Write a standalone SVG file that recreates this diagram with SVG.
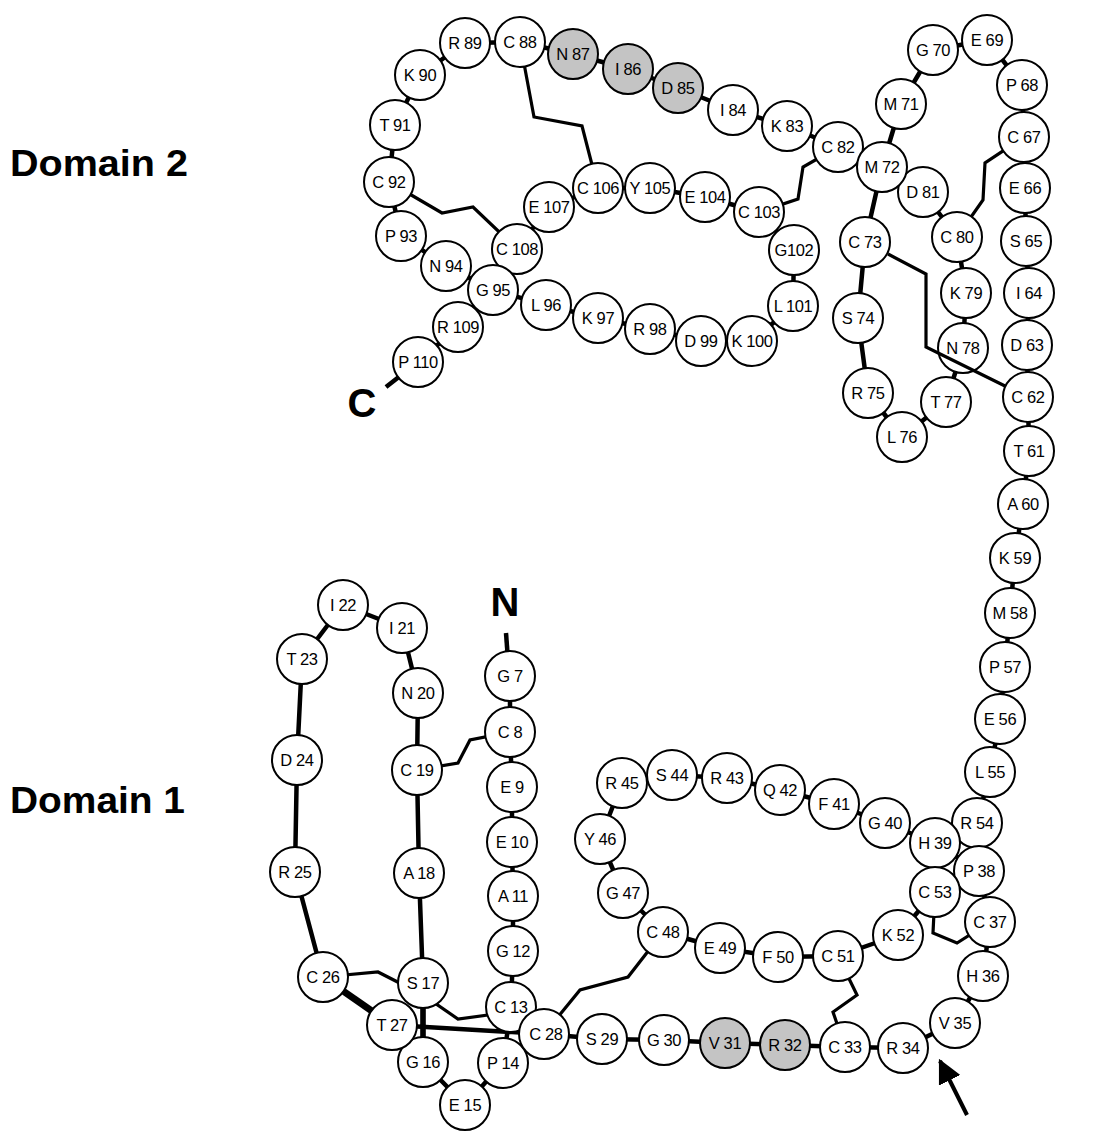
<svg xmlns="http://www.w3.org/2000/svg" width="1093" height="1131" viewBox="0 0 1093 1131">
<defs>
<style>
.n circle{fill:#fff;stroke:#000;stroke-width:2}
.n.g circle{fill:#c4c4c4}
.n text{font-family:"Liberation Sans",Arial,sans-serif;font-size:16.5px;letter-spacing:-0.4px;text-anchor:middle;fill:#000}
.bb{fill:none;stroke:#000;stroke-width:4.5;stroke-linejoin:round}
.ss{fill:none;stroke:#000;stroke-width:3.2;stroke-linejoin:miter}
.lbl{font-family:"Liberation Sans",Arial,sans-serif;font-weight:bold;fill:#000}
</style>
<marker id="ah" viewBox="0 0 10 10" refX="9" refY="5" markerWidth="6" markerHeight="6" markerUnits="strokeWidth" orient="auto">
<path d="M0,0 L10,5 L0,10 z" fill="#000"/>
</marker>
</defs>
<rect width="1093" height="1131" fill="#fff"/>
<text class="lbl" x="10" y="176" font-size="36" textLength="178" lengthAdjust="spacingAndGlyphs">Domain 2</text>
<text class="lbl" x="10" y="813" font-size="36" textLength="175" lengthAdjust="spacingAndGlyphs">Domain 1</text>
<text class="lbl" x="505" y="616" font-size="40" text-anchor="middle">N</text>
<text class="lbl" x="362" y="417" font-size="40" text-anchor="middle">C</text>
<g id="connectors">
<polyline class="bb" points="510,676 510,732 512,787 512,842 513,896 513,951 511,1007 503,1063 465,1105 423,1062 423,983 419,873 417,770 418,693 402,628 343,605 302,659 297,760 295,872 323,977 392,1025 544,1034 602,1039 664,1040 725,1043 785,1045 845,1047 903,1048 955,1023 983,976 990,922 979,871 935,843 885,823 834,804 780,790 727,778 672,775 622,783 600,839 623,893 663,932 720,948 778,957 838,956 898,935 935,892 979,871 977,823 990,772 1000,719 1005,667 1010,613 1015,558 1023,504 1029,451 1028,397 1027,345 1029,293 1026,241 1025,188 1024,137 1022,85 987,40 933,50 901,104 882,167 865,242 858,318 868,393 902,437 946,402 963,348 966,293 957,237 923,192 838,147 787,126 733,110 678,88 628,69 573,54 520,42 465,43 420,75 395,125 389,182 401,236 446,266 493,290 546,305 598,318 650,329 701,341 752,341 793,306 794,250 759,212 705,197 650,188 598,188 549,207 517,249 458,327 418,362 386,387"/>
<line x1="323" y1="977" x2="392" y2="1025" stroke="#000" stroke-width="7"/>
<line x1="423" y1="983" x2="423" y2="1062" stroke="#000" stroke-width="5.5"/>
<line class="bb" x1="506" y1="633" x2="508" y2="660"/>
<polyline class="ss" points="417,770 458,763 470,740 510,732"/>
<polyline class="ss" points="323,977 378,972 423,995 458,1019 510,1012"/>
<polyline class="ss" points="544,1034 580,990 628,977 663,932"/>
<polyline class="ss" points="838,956 857,995 833,1012 845,1047"/>
<polyline class="ss" points="935,892 933,933 957,943 990,922"/>
<polyline class="ss" points="1024,137 985,163 983,200 957,237"/>
<polyline class="ss" points="838,147 803,167 798,199 759,212"/>
<polyline class="ss" points="520,42 534,117 582,126 598,188"/>
<polyline class="ss" points="389,182 442,213 473,207 517,249"/>
<line x1="967" y1="1115" x2="940" y2="1061" stroke="#000" stroke-width="4" marker-end="url(#ah)"/>
</g>
<g id="r7" class="n"><circle cx="510" cy="676" r="25"/><text x="510" y="682">G 7</text></g>
<g id="r8" class="n"><circle cx="510" cy="732" r="25"/><text x="510" y="738">C 8</text></g>
<g id="r9" class="n"><circle cx="512" cy="787" r="25"/><text x="512" y="793">E 9</text></g>
<g id="r10" class="n"><circle cx="512" cy="842" r="25"/><text x="512" y="848">E 10</text></g>
<g id="r11" class="n"><circle cx="513" cy="896" r="25"/><text x="513" y="902">A 11</text></g>
<g id="r12" class="n"><circle cx="513" cy="951" r="25"/><text x="513" y="957">G 12</text></g>
<g id="r13" class="n"><circle cx="511" cy="1007" r="25"/><text x="511" y="1013">C 13</text></g>
<g id="r14" class="n"><circle cx="503" cy="1063" r="25"/><text x="503" y="1069">P 14</text></g>
<g id="r15" class="n"><circle cx="465" cy="1105" r="25"/><text x="465" y="1111">E 15</text></g>
<g id="r16" class="n"><circle cx="423" cy="1062" r="25"/><text x="423" y="1068">G 16</text></g>
<g id="r17" class="n"><circle cx="423" cy="983" r="25"/><text x="423" y="989">S 17</text></g>
<g id="r18" class="n"><circle cx="419" cy="873" r="25"/><text x="419" y="879">A 18</text></g>
<g id="r19" class="n"><circle cx="417" cy="770" r="25"/><text x="417" y="776">C 19</text></g>
<g id="r20" class="n"><circle cx="418" cy="693" r="25"/><text x="418" y="699">N 20</text></g>
<g id="r21" class="n"><circle cx="402" cy="628" r="25"/><text x="402" y="634">I 21</text></g>
<g id="r22" class="n"><circle cx="343" cy="605" r="25"/><text x="343" y="611">I 22</text></g>
<g id="r23" class="n"><circle cx="302" cy="659" r="25"/><text x="302" y="665">T 23</text></g>
<g id="r24" class="n"><circle cx="297" cy="760" r="25"/><text x="297" y="766">D 24</text></g>
<g id="r25" class="n"><circle cx="295" cy="872" r="25"/><text x="295" y="878">R 25</text></g>
<g id="r26" class="n"><circle cx="323" cy="977" r="25"/><text x="323" y="983">C 26</text></g>
<g id="r27" class="n"><circle cx="392" cy="1025" r="25"/><text x="392" y="1031">T 27</text></g>
<g id="r28" class="n"><circle cx="544" cy="1034" r="25"/><text x="546" y="1040">C 28</text></g>
<g id="r29" class="n"><circle cx="602" cy="1039" r="25"/><text x="602" y="1045">S 29</text></g>
<g id="r30" class="n"><circle cx="664" cy="1040" r="25"/><text x="664" y="1046">G 30</text></g>
<g id="r31" class="n g"><circle cx="725" cy="1043" r="25"/><text x="725" y="1049">V 31</text></g>
<g id="r32" class="n g"><circle cx="785" cy="1045" r="25"/><text x="785" y="1051">R 32</text></g>
<g id="r33" class="n"><circle cx="845" cy="1047" r="25"/><text x="845" y="1053">C 33</text></g>
<g id="r34" class="n"><circle cx="903" cy="1048" r="25"/><text x="903" y="1054">R 34</text></g>
<g id="r35" class="n"><circle cx="955" cy="1023" r="25"/><text x="955" y="1029">V 35</text></g>
<g id="r36" class="n"><circle cx="983" cy="976" r="25"/><text x="983" y="982">H 36</text></g>
<g id="r37" class="n"><circle cx="990" cy="922" r="25"/><text x="990" y="928">C 37</text></g>
<g id="r54" class="n"><circle cx="977" cy="823" r="25"/><text x="977" y="829">R 54</text></g>
<g id="r38" class="n"><circle cx="979" cy="871" r="25"/><text x="979" y="877">P 38</text></g>
<g id="r39" class="n"><circle cx="935" cy="843" r="25"/><text x="935" y="849">H 39</text></g>
<g id="r40" class="n"><circle cx="885" cy="823" r="25"/><text x="885" y="829">G 40</text></g>
<g id="r41" class="n"><circle cx="834" cy="804" r="25"/><text x="834" y="810">F 41</text></g>
<g id="r42" class="n"><circle cx="780" cy="790" r="25"/><text x="780" y="796">Q 42</text></g>
<g id="r43" class="n"><circle cx="727" cy="778" r="25"/><text x="727" y="784">R 43</text></g>
<g id="r44" class="n"><circle cx="672" cy="775" r="25"/><text x="672" y="781">S 44</text></g>
<g id="r45" class="n"><circle cx="622" cy="783" r="25"/><text x="622" y="789">R 45</text></g>
<g id="r46" class="n"><circle cx="600" cy="839" r="25"/><text x="600" y="845">Y 46</text></g>
<g id="r47" class="n"><circle cx="623" cy="893" r="25"/><text x="623" y="899">G 47</text></g>
<g id="r48" class="n"><circle cx="663" cy="932" r="25"/><text x="663" y="938">C 48</text></g>
<g id="r49" class="n"><circle cx="720" cy="948" r="25"/><text x="720" y="954">E 49</text></g>
<g id="r50" class="n"><circle cx="778" cy="957" r="25"/><text x="778" y="963">F 50</text></g>
<g id="r51" class="n"><circle cx="838" cy="956" r="25"/><text x="838" y="962">C 51</text></g>
<g id="r52" class="n"><circle cx="898" cy="935" r="25"/><text x="898" y="941">K 52</text></g>
<g id="r53" class="n"><circle cx="935" cy="892" r="25"/><text x="935" y="898">C 53</text></g>
<g id="r55" class="n"><circle cx="990" cy="772" r="25"/><text x="990" y="778">L 55</text></g>
<g id="r56" class="n"><circle cx="1000" cy="719" r="25"/><text x="1000" y="725">E 56</text></g>
<g id="r57" class="n"><circle cx="1005" cy="667" r="25"/><text x="1005" y="673">P 57</text></g>
<g id="r58" class="n"><circle cx="1010" cy="613" r="25"/><text x="1010" y="619">M 58</text></g>
<g id="r59" class="n"><circle cx="1015" cy="558" r="25"/><text x="1015" y="564">K 59</text></g>
<g id="r60" class="n"><circle cx="1023" cy="504" r="25"/><text x="1023" y="510">A 60</text></g>
<g id="r61" class="n"><circle cx="1029" cy="451" r="25"/><text x="1029" y="457">T 61</text></g>
<g id="r62" class="n"><circle cx="1028" cy="397" r="25"/><text x="1028" y="403">C 62</text></g>
<g id="r63" class="n"><circle cx="1027" cy="345" r="25"/><text x="1027" y="351">D 63</text></g>
<g id="r64" class="n"><circle cx="1029" cy="293" r="25"/><text x="1029" y="299">I 64</text></g>
<g id="r65" class="n"><circle cx="1026" cy="241" r="25"/><text x="1026" y="247">S 65</text></g>
<g id="r66" class="n"><circle cx="1025" cy="188" r="25"/><text x="1025" y="194">E 66</text></g>
<g id="r67" class="n"><circle cx="1024" cy="137" r="25"/><text x="1024" y="143">C 67</text></g>
<g id="r68" class="n"><circle cx="1022" cy="85" r="25"/><text x="1022" y="91">P 68</text></g>
<g id="r69" class="n"><circle cx="987" cy="40" r="25"/><text x="987" y="46">E 69</text></g>
<g id="r70" class="n"><circle cx="933" cy="50" r="25"/><text x="933" y="56">G 70</text></g>
<g id="r71" class="n"><circle cx="901" cy="104" r="25"/><text x="901" y="110">M 71</text></g>
<g id="r73" class="n"><circle cx="865" cy="242" r="25"/><text x="865" y="248">C 73</text></g>
<g id="r74" class="n"><circle cx="858" cy="318" r="25"/><text x="858" y="324">S 74</text></g>
<g id="r75" class="n"><circle cx="868" cy="393" r="25"/><text x="868" y="399">R 75</text></g>
<g id="r76" class="n"><circle cx="902" cy="437" r="25"/><text x="902" y="443">L 76</text></g>
<g id="r77" class="n"><circle cx="946" cy="402" r="25"/><text x="946" y="408">T 77</text></g>
<g id="r78" class="n"><circle cx="963" cy="348" r="25"/><text x="963" y="354">N 78</text></g>
<g id="r79" class="n"><circle cx="966" cy="293" r="25"/><text x="966" y="299">K 79</text></g>
<g id="r80" class="n"><circle cx="957" cy="237" r="25"/><text x="957" y="243">C 80</text></g>
<g id="r81" class="n"><circle cx="923" cy="192" r="25"/><text x="923" y="198">D 81</text></g>
<g id="r82" class="n"><circle cx="838" cy="147" r="25"/><text x="838" y="153">C 82</text></g>
<g id="r72" class="n"><circle cx="882" cy="167" r="25"/><text x="882" y="173">M 72</text></g>
<g id="r83" class="n"><circle cx="787" cy="126" r="25"/><text x="787" y="132">K 83</text></g>
<g id="r84" class="n"><circle cx="733" cy="110" r="25"/><text x="733" y="116">I 84</text></g>
<g id="r85" class="n g"><circle cx="678" cy="88" r="25"/><text x="678" y="94">D 85</text></g>
<g id="r86" class="n g"><circle cx="628" cy="69" r="25"/><text x="628" y="75">I 86</text></g>
<g id="r87" class="n g"><circle cx="573" cy="54" r="25"/><text x="573" y="60">N 87</text></g>
<g id="r88" class="n"><circle cx="520" cy="42" r="25"/><text x="520" y="48">C 88</text></g>
<g id="r89" class="n"><circle cx="465" cy="43" r="25"/><text x="465" y="49">R 89</text></g>
<g id="r90" class="n"><circle cx="420" cy="75" r="25"/><text x="420" y="81">K 90</text></g>
<g id="r91" class="n"><circle cx="395" cy="125" r="25"/><text x="395" y="131">T 91</text></g>
<g id="r92" class="n"><circle cx="389" cy="182" r="25"/><text x="389" y="188">C 92</text></g>
<g id="r93" class="n"><circle cx="401" cy="236" r="25"/><text x="401" y="242">P 93</text></g>
<g id="r94" class="n"><circle cx="446" cy="266" r="25"/><text x="446" y="272">N 94</text></g>
<g id="r96" class="n"><circle cx="546" cy="305" r="25"/><text x="546" y="311">L 96</text></g>
<g id="r97" class="n"><circle cx="598" cy="318" r="25"/><text x="598" y="324">K 97</text></g>
<g id="r98" class="n"><circle cx="650" cy="329" r="25"/><text x="650" y="335">R 98</text></g>
<g id="r99" class="n"><circle cx="701" cy="341" r="25"/><text x="701" y="347">D 99</text></g>
<g id="r100" class="n"><circle cx="752" cy="341" r="25"/><text x="752" y="347">K 100</text></g>
<g id="r101" class="n"><circle cx="793" cy="306" r="25"/><text x="793" y="312">L 101</text></g>
<g id="r102" class="n"><circle cx="794" cy="250" r="25"/><text x="794" y="256">G102</text></g>
<g id="r103" class="n"><circle cx="759" cy="212" r="25"/><text x="759" y="218">C 103</text></g>
<g id="r104" class="n"><circle cx="705" cy="197" r="25"/><text x="705" y="203">E 104</text></g>
<g id="r105" class="n"><circle cx="650" cy="188" r="25"/><text x="650" y="194">Y 105</text></g>
<g id="r106" class="n"><circle cx="598" cy="188" r="25"/><text x="598" y="194">C 106</text></g>
<g id="r107" class="n"><circle cx="549" cy="207" r="25"/><text x="549" y="213">E 107</text></g>
<g id="r108" class="n"><circle cx="517" cy="249" r="25"/><text x="517" y="255">C 108</text></g>
<g id="r95" class="n"><circle cx="493" cy="290" r="25"/><text x="493" y="296">G 95</text></g>
<g id="r109" class="n"><circle cx="458" cy="327" r="25"/><text x="458" y="333">R 109</text></g>
<g id="r110" class="n"><circle cx="418" cy="362" r="25"/><text x="418" y="368">P 110</text></g>
<g id="connectors-top">
<polyline class="ss" points="888,254 926,274 926,347 1005,386"/>
</g>
</svg>
